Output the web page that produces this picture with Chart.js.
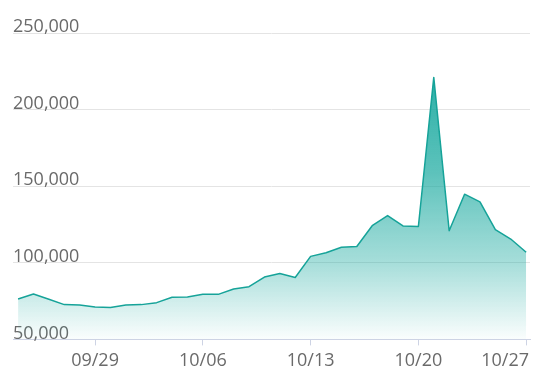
<!DOCTYPE html>
<html>
<head>
<meta charset="utf-8">
<script src="https://cdn.jsdelivr.net/npm/chart.js@4.4.1/dist/chart.umd.min.js"></script>
<style>
  html, body { margin: 0; padding: 0; background: #fff; }
  #wrap { width: 560px; height: 384px; }
</style>
</head>
<body>
<div id="wrap"><canvas id="chart"></canvas></div>
<script>
// daily dates, 09/24 .. 10/27
const dates = [
  "09/24", "09/25", "09/26", "09/27", "09/28", "09/29", "09/30",
  "10/01", "10/02", "10/03", "10/04", "10/05", "10/06", "10/07",
  "10/08", "10/09", "10/10", "10/11", "10/12", "10/13", "10/14",
  "10/15", "10/16", "10/17", "10/18", "10/19", "10/20", "10/21",
  "10/22", "10/23", "10/24", "10/25", "10/26", "10/27"
];
const values = [
  76400, 79600, 76200, 72700, 72500, 71200, 70800,
  72500, 72700, 74000, 77500, 77700, 79400, 79400,
  82900, 84400, 90700, 93000, 90400, 104200, 106600,
  110100, 110600, 124200, 130800, 124100, 123700, 221000,
  120900, 144800, 139800, 121700, 115500, 106900
];
const xTickLabels = ["09/29", "10/06", "10/13", "10/20", "10/27"];
const yTicks = [50000, 100000, 150000, 200000, 250000];

const teal = "rgb(22, 163, 153)";

function fillGradient(context) {
  const area = context.chart.chartArea;
  if (!area) return "rgba(22,168,158,0.3)";
  const g = context.chart.ctx.createLinearGradient(0, area.top, 0, area.bottom);
  g.addColorStop(0, "rgba(22,168,158,1)");
  g.addColorStop(0.45, "rgba(22,168,158,0.7)");
  g.addColorStop(0.75, "rgba(22,168,158,0.38)");
  g.addColorStop(1, "rgba(22,168,158,0.02)");
  return g;
}

const points = values.map((v, i) => ({ x: i, y: v }));

new Chart(document.getElementById("chart"), {
  type: "line",
  data: {
    datasets: [{
      data: points,
      borderColor: teal,
      borderWidth: 1.5,
      borderJoinStyle: "round",
      backgroundColor: fillGradient,
      fill: "start",
      pointRadius: 0,
      tension: 0
    }]
  },
  options: {
    responsive: true,
    maintainAspectRatio: false,
    animation: false,
    layout: { padding: { left: 13, right: 30, top: 33, bottom: 7 } },
    plugins: { legend: { display: false }, tooltip: { enabled: false } },
    scales: {
      x: {
        type: "linear",
        min: -0.33,
        max: 33.25,
        afterBuildTicks: (axis) => {
          axis.ticks = xTickLabels.map(l => ({ value: dates.indexOf(l) }));
        },
        afterFit: (axis) => {
          axis.paddingLeft = 0;
          axis.paddingRight = 0;
        },
        grid: {
          drawOnChartArea: false,
          drawTicks: true,
          tickLength: 6,
          color: "#cdd3e4"
        },
        border: { display: true, color: "#cdd3e4" },
        ticks: {
          autoSkip: false,
          maxRotation: 0,
          padding: 5,
          color: "#6a6a6a",
          font: { family: "'Open Sans'", size: 18 },
          // last label sits left of its tick, inside the canvas
          callback: (v) => v === dates.length - 1 ? dates[v] + "\u00a0".repeat(9) : dates[v]
        }
      },
      y: {
        min: 50000,
        max: 250000,
        afterBuildTicks: (axis) => {
          axis.ticks = yTicks.map(v => ({ value: v }));
        },
        grid: { color: "#e4e4e4", drawTicks: false },
        border: { display: false },
        ticks: {
          mirror: true,
          padding: 0,
          labelOffset: -6,
          color: "#6a6a6a",
          font: { family: "'Open Sans'", size: 18 },
          callback: (v) => v.toLocaleString("en-US")
        }
      }
    }
  }
});
</script>
</body>
</html>
